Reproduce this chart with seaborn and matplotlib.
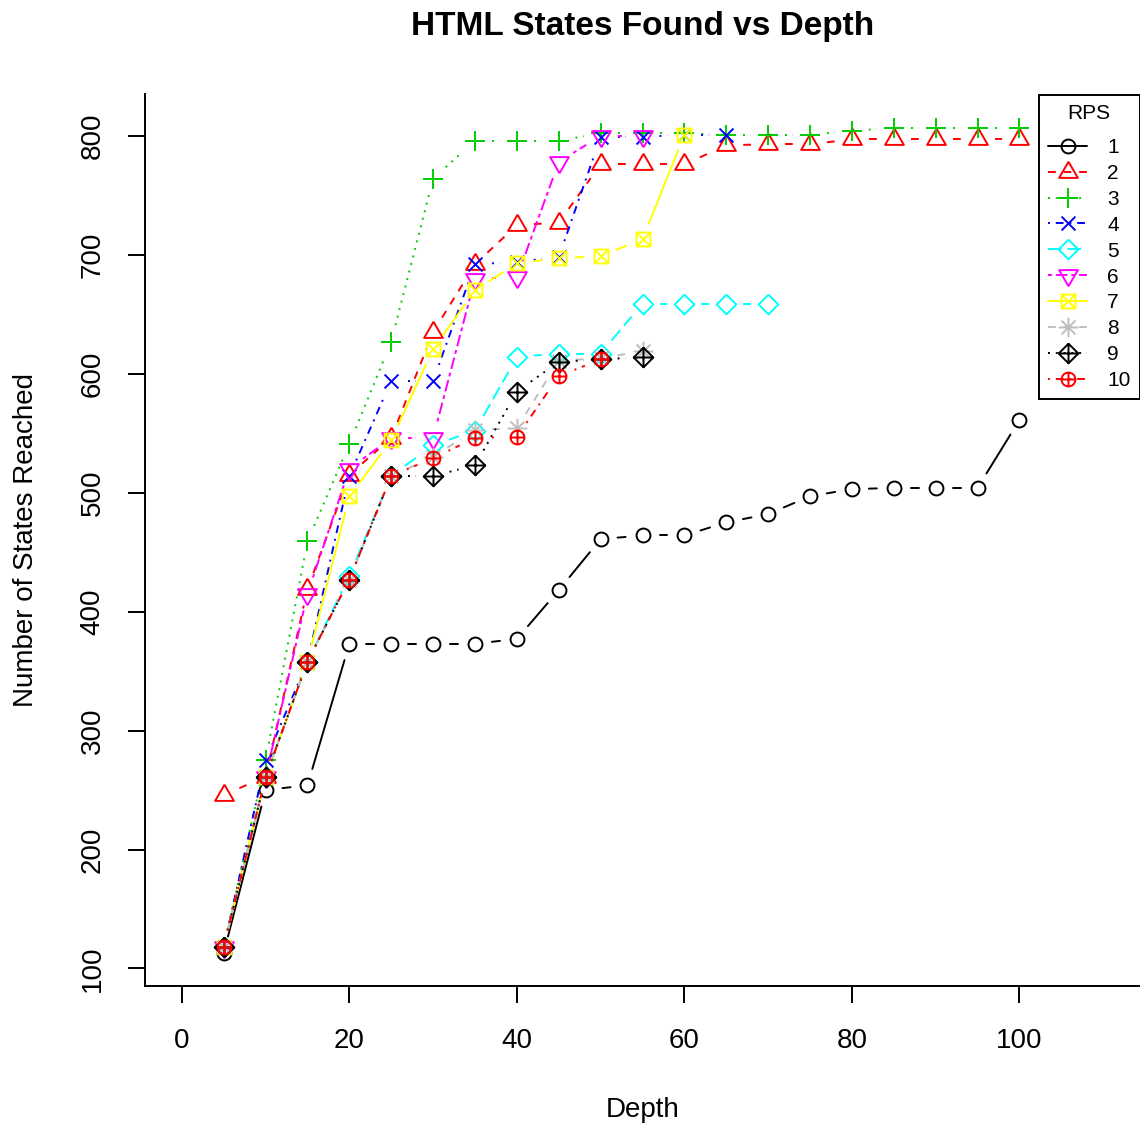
import numpy as np
import pandas as pd
import seaborn as sns
import matplotlib.pyplot as plt
from matplotlib.path import Path
from matplotlib.lines import Line2D

# depth values (x axis)
depth = [5, 10, 15, 20, 25, 30, 35, 40, 45, 50, 55, 60, 65, 70, 75, 80, 85, 90, 95, 100]

# states reached per RPS setting
rps_1 = [113, 250, 254, 373, 373, 373, 373, 377, 418, 461, 464, 464, 475, 482, 497, 503, 504, 504, 504, 561]
rps_2 = [246, 261, 419, 515, 546, 635, 692, 725, 727, 776, 776, 776, 792, 793, 793, 797, 797, 797, 797, 797]
rps_3 = [118, 275, 459, 541, 627, 764, 796, 796, 796, 802, 802, 802, 801, 801, 801, 804, 807, 807, 807, 807]
rps_4 = [118, 275, 358, 514, 594, 594, 692, 694, 698, 799, 799, 801, 801]
rps_5 = [118, 261, 358, 430, 514, 540, 552, 614, 617, 617, 659, 659, 659, 659]
rps_6 = [118, 261, 415, 520, 546, 546, 680, 681, 778, 800, 800]
rps_7 = [118, 261, 358, 497, 544, 621, 670, 693, 697, 699, 713, 801]
rps_8 = [118, 261, 358, 427, 514, 530, 553, 554, 611, 613, 619]
rps_9 = [118, 261, 358, 427, 514, 514, 523, 585, 610, 612, 614]
rps_10 = [118, 261, 358, 427, 514, 529, 546, 547, 598, 612]

rps_names = ['1', '2', '3', '4', '5', '6', '7', '8', '9', '10']
series = [rps_1, rps_2, rps_3, rps_4, rps_5, rps_6, rps_7, rps_8, rps_9, rps_10]

# R default palette / lty / pch look
colors = ['#000000', '#FF0000', '#00CD00', '#0000FF', '#00FFFF',
          '#FF00FF', '#FFFF00', '#BEBEBE', '#000000', '#FF0000']
dashed = (0, (4, 4))
dotted = (0, (1, 3))
dotdash = (0, (1, 3, 4, 3))
longdash = (0, (7, 3))
twodash = (0, (2, 2, 6, 2))
styles = ['-', dashed, dotted, dotdash, longdash, twodash, '-', dashed, dotted, dotdash]

M, L = Path.MOVETO, Path.LINETO
circle = Path.unit_circle()
plus = Path([(-1.414, 0), (1.414, 0), (0, -1.414), (0, 1.414)], [M, L, M, L])
small_plus = Path([(-1, 0), (1, 0), (0, -1), (0, 1)], [M, L, M, L])
cross = Path([(-1, -1), (1, 1), (-1, 1), (1, -1)], [M, L, M, L])
tri_up = Path([(0, 1.555), (1.347, -0.778), (-1.347, -0.778), (0, 1.555)], [M, L, L, L])
tri_down = Path([(0, -1.555), (1.347, 0.778), (-1.347, 0.778), (0, -1.555)], [M, L, L, L])
diamond = Path([(0, 1.414), (1.414, 0), (0, -1.414), (-1.414, 0), (0, 1.414)], [M, L, L, L, L])
square = Path([(-1, -1), (1, -1), (1, 1), (-1, 1), (-1, -1)], [M, L, L, L, L])
markers = [circle, tri_up, plus, cross, diamond, tri_down,
           Path.make_compound_path(square, cross),
           Path.make_compound_path(plus, cross),
           Path.make_compound_path(diamond, plus),
           Path.make_compound_path(circle, small_plus)]

XC = 5.0   # symbol radius in points
GAP = 17   # px gap between line ends and points (type="b")
LW = 1.4

sns.set_style("ticks")
plt.rcParams['font.family'] = ['Liberation Sans', 'DejaVu Sans']
plt.rcParams['text.color'] = 'black'
plt.rcParams['axes.labelcolor'] = 'black'
plt.rcParams['xtick.color'] = 'black'
plt.rcParams['ytick.color'] = 'black'

fig = plt.figure(figsize=(11.4, 11.25), dpi=100)
ax = fig.add_axes([145 / 1140, 139 / 1125, 995 / 1140, 891.5 / 1125])

all_y = np.concatenate([np.array(s, dtype=float) for s in series])
ylo, yhi = all_y.min(), all_y.max()
ax.set_xlim(0 - 4.4, 110 + 4.4)
ax.set_ylim(ylo - 0.04 * (yhi - ylo), yhi + 0.04 * (yhi - ylo))

to_px = ax.transData
to_data = ax.transData.inverted()

handles = []
for k, (name, vals) in enumerate(zip(rps_names, series)):
    x = np.array(depth[:len(vals)], dtype=float)
    y = np.array(vals, dtype=float)
    pts = to_px.transform(np.column_stack([x, y]))
    rows = []
    for i in range(len(pts) - 1):
        p0, p1 = pts[i], pts[i + 1]
        d = np.hypot(*(p1 - p0))
        if d <= 2 * GAP:
            continue
        u = (p1 - p0) / d
        a = to_data.transform(p0 + u * GAP)
        b = to_data.transform(p1 - u * GAP)
        rows.append((a[0], a[1], i))
        rows.append((b[0], b[1], i))
    seg = pd.DataFrame(rows, columns=['Depth', 'States', 'seg'])
    if len(seg):
        sns.lineplot(data=seg, x='Depth', y='States', units='seg', estimator=None,
                     sort=False, color=colors[k], linewidth=LW, linestyle=styles[k],
                     ax=ax, legend=False, zorder=3 + k)

    ext = np.abs(markers[k].vertices).max()
    ms = 2 * ext * XC
    ax.plot(x, y, linestyle='none', marker=markers[k], markersize=ms,
            markerfacecolor='none', markeredgecolor=colors[k], markeredgewidth=LW,
            zorder=3 + k + 0.5)
    handles.append(Line2D([0], [0], color=colors[k], linewidth=LW, linestyle=styles[k],
                          marker=markers[k], markersize=ms, markerfacecolor='none',
                          markeredgecolor=colors[k], markeredgewidth=LW))

ax.set_xlim(0 - 4.4, 110 + 4.4)
ax.set_ylim(ylo - 0.04 * (yhi - ylo), yhi + 0.04 * (yhi - ylo))

sns.despine(ax=ax)
for sp in ['left', 'bottom']:
    ax.spines[sp].set_linewidth(LW)
    ax.spines[sp].set_color('black')

ax.set_xticks([0, 20, 40, 60, 80, 100])
ax.set_yticks([100, 200, 300, 400, 500, 600, 700, 800])
ax.tick_params(axis='both', length=12.2, width=LW, colors='black', labelsize=20)
ax.tick_params(axis='x', pad=18)
ax.tick_params(axis='y', pad=16, labelrotation=90)
for lbl in ax.get_yticklabels():
    lbl.set_va('center')

ax.set_xlabel('Depth', fontsize=20)
ax.set_ylabel('Number of States Reached', fontsize=20)
ax.xaxis.set_label_coords(0.5, -0.1245)
ax.yaxis.set_label_coords(-0.1065, 0.5)
ax.set_title('HTML States Found vs Depth', fontsize=24, fontweight='bold', pad=42.8)

leg = ax.legend(handles, rps_names, title='RPS', loc='upper right', bbox_to_anchor=(1, 1),
                borderaxespad=0, fontsize=15, title_fontsize=15, frameon=True,
                fancybox=False, edgecolor='black', framealpha=1, handlelength=1.9,
                handletextpad=0.95, labelspacing=0.33, borderpad=0.45)
leg.get_frame().set_linewidth(LW)
leg._legend_box.sep = 11  # a bit more room under the "RPS" title
leg.set_zorder(20)

fig.savefig('out.png', dpi=100)
